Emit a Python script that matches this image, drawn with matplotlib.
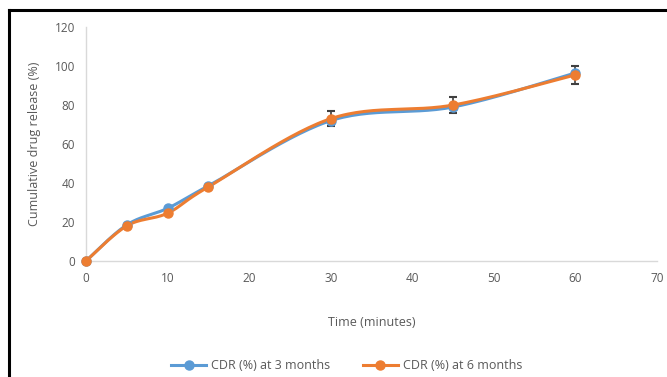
import numpy as np
import matplotlib.pyplot as plt
from matplotlib.lines import Line2D

plt.rcParams['font.family'] = ['Open Sans', 'DejaVu Sans']

time_min = [0, 5, 10, 15, 30, 45, 60]
cdr_3m = [0, 18.5, 27, 38.5, 72, 79, 96.5]
cdr_6m = [0, 18, 24.5, 38, 73, 80, 95.5]
err_6m = [0, 0.8, 1.0, 1.0, 3.8, 4.0, 4.6]
labels = ['CDR (%) at 3 months', 'CDR (%) at 6 months']

BLUE = '#5B9BD5'
ORANGE = '#ED7D31'
GRAY = '#595959'


def smooth(x, y, n=30):
    # Excel style smoothed line: cubic bezier with 1/6 tension
    x = np.asarray(x, float)
    y = np.asarray(y, float)
    px = np.concatenate([[x[0]], x, [x[-1]]])
    py = np.concatenate([[y[0]], y, [y[-1]]])
    xs, ys = [], []
    t = np.linspace(0, 1, n)
    for i in range(1, len(px) - 2):
        p0 = np.array([px[i], py[i]])
        p3 = np.array([px[i + 1], py[i + 1]])
        p1 = p0 + (np.array([px[i + 1], py[i + 1]]) - np.array([px[i - 1], py[i - 1]])) / 6
        p2 = p3 - (np.array([px[i + 2], py[i + 2]]) - np.array([px[i], py[i]])) / 6
        b = ((1 - t) ** 3)[:, None] * p0 + (3 * (1 - t) ** 2 * t)[:, None] * p1 \
            + (3 * (1 - t) * t ** 2)[:, None] * p2 + (t ** 3)[:, None] * p3
        xs.extend(b[:, 0])
        ys.extend(b[:, 1])
    return xs, ys


fig = plt.figure(figsize=(6.67, 3.77), dpi=100)
ax = fig.add_axes([0.129, 0.308, 0.856, 0.620])

for yv, c, lab in [(cdr_3m, BLUE, labels[0]), (cdr_6m, ORANGE, labels[1])]:
    sx, sy = smooth(time_min, yv)
    ax.plot(sx, sy, color=c, lw=2.2, solid_capstyle='round', clip_on=False)
    ax.plot(time_min, yv, 'o', color=c, ms=6.5, clip_on=False, zorder=3)

ax.errorbar(time_min, cdr_6m, yerr=err_6m, fmt='none', ecolor='#404040',
            elinewidth=1.2, capsize=3, capthick=1.5, zorder=1)

ax.set_xlim(0, 70)
ax.set_ylim(0, 120)
ax.set_xticks(range(0, 71, 10))
ax.set_yticks(range(0, 121, 20))
ax.tick_params(length=0, labelsize=8.5, colors=GRAY, pad=8)
for s in ['top', 'right']:
    ax.spines[s].set_visible(False)
for s in ['left', 'bottom']:
    ax.spines[s].set_color('#D9D9D9')
    ax.spines[s].set_linewidth(1)

ax.set_xlabel('Time (minutes)', fontsize=9, color=GRAY, labelpad=22)
ax.set_ylabel('Cumulative drug release (%)', fontsize=9, color=GRAY, labelpad=10)

handles = [Line2D([], [], color=BLUE, lw=2.2, marker='o', ms=6.5),
           Line2D([], [], color=ORANGE, lw=2.2, marker='o', ms=6.5)]
fig.legend(handles, labels, loc='center', bbox_to_anchor=(0.52, 0.03), ncol=2,
           frameon=False, fontsize=9, labelcolor=GRAY, handlelength=2.8,
           columnspacing=2.6, handletextpad=0.4)

# frame of the original box (left and top edges)
fig.add_artist(Line2D([9 / 667, 9 / 667], [0, 1 - 10 / 377], color='black', lw=2.2,
                      transform=fig.transFigure))
fig.add_artist(Line2D([9 / 667, 1], [1 - 10 / 377, 1 - 10 / 377], color='black', lw=2.2,
                      transform=fig.transFigure))

fig.savefig('out.png', dpi=100)
